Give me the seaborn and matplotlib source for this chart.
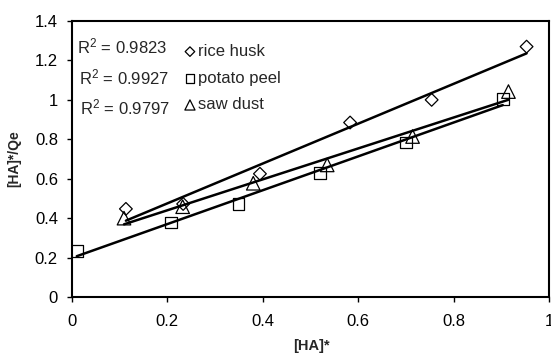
import numpy as np
import pandas as pd
import matplotlib
matplotlib.use('Agg')
import matplotlib.pyplot as plt
import seaborn as sns

sns.set_style('ticks')
plt.rcParams['font.family'] = ['Liberation Sans', 'DejaVu Sans']
plt.rcParams['mathtext.default'] = 'regular'

# data
rice_x = [0.113, 0.233, 0.394, 0.583, 0.754, 0.953]
rice_y = [0.447, 0.472, 0.625, 0.885, 1.000, 1.270]
potato_x = [0.010, 0.207, 0.349, 0.520, 0.700, 0.903]
potato_y = [0.233, 0.377, 0.472, 0.628, 0.783, 1.005]
saw_x = [0.109, 0.232, 0.380, 0.535, 0.714, 0.915]
saw_y = [0.400, 0.458, 0.577, 0.670, 0.814, 1.042]

labels = ['rice husk', 'potato peel', 'saw dust']
r2_labels = ['0.9823', '0.9927', '0.9797']
markers = ['D', 's', '^']
sizes = [42, 70, 95]
xtick_labels = ['0', '0.2', '0.4', '0.6', '0.8', '1']
ytick_labels = ['0', '0.2', '0.4', '0.6', '0.8', '1', '1.2', '1.4']

series = [(rice_x, rice_y), (potato_x, potato_y), (saw_x, saw_y)]

fig = plt.figure(figsize=(5.51, 3.58), dpi=100)
ax = fig.add_axes([72/551, 1 - 297/358, 477/551, 276/358])

for (x, y), lab, mk, sz in zip(series, labels, markers, sizes):
    df = pd.DataFrame({'x': x, 'y': y})
    sns.regplot(data=df, x='x', y='y', ax=ax, ci=None, truncate=True,
                marker=mk, label=lab,
                scatter_kws={'facecolors': 'none', 'edgecolors': 'black',
                             's': sz, 'linewidths': 0.9, 'alpha': 1},
                line_kws={'color': 'black', 'lw': 1.8})

ax.set_xlim(0, 1)
ax.set_ylim(0, 1.4)
ax.set_xticks(np.linspace(0, 1, len(xtick_labels)))
ax.set_yticks(np.linspace(0, 1.4, len(ytick_labels)))
ax.set_xticklabels(xtick_labels)
ax.set_yticklabels(ytick_labels)
ax.tick_params(labelsize=12, length=3.6, width=1, colors='black')
ax.tick_params(axis='x', pad=9)
ax.tick_params(axis='y', pad=6.5)
for s in ax.spines.values():
    s.set_visible(True)
    s.set_linewidth(1.5)
    s.set_color('black')

ax.set_xlabel('[HA]*', fontsize=10.5, fontweight='bold')
ax.set_ylabel('[HA]*/Qe', fontsize=10, fontweight='bold')
ax.xaxis.set_label_coords(0.5025, -0.152)
ax.yaxis.set_label_coords(-0.107, 0.5)

r2_y = [0.906, 0.797, 0.688]
r2_x = [0.0105, 0.014, 0.0168]
for xx, yy, r in zip(r2_x, r2_y, r2_labels):
    ax.text(xx, yy, 'R$^{2}$ = ' + r, transform=ax.transAxes,
            fontsize=12, va='center', ha='left')

ax.legend(loc='upper left', bbox_to_anchor=(0.2333, 0.9167), frameon=False,
          fontsize=12, handletextpad=0.08, labelspacing=0.7,
          borderpad=0, borderaxespad=0, handlelength=0.8, markerscale=0.75)

fig.savefig('out.png', dpi=100)
